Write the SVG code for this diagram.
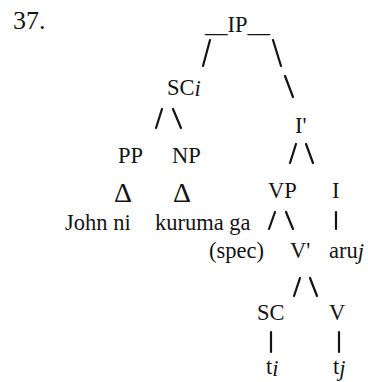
<svg xmlns="http://www.w3.org/2000/svg" width="368" height="382" viewBox="0 0 368 382" font-family="'Liberation Serif', 'DejaVu Serif', serif">
  <style>
    .lbl { font-family: 'Liberation Serif', 'DejaVu Serif', serif; font-size: 22.5px; fill: #141414; }
    .num { font-size: 26px; }
    .tri { font-size: 28px; }
    .it { font-style: italic; }
    .edge { stroke: #141414; stroke-width: 2.2; stroke-linecap: round; fill: none; }
  </style>
  <rect width="368" height="382" fill="#ffffff"/>

  <text class="lbl num" x="13" y="29">37.</text>

  <!-- branches of the tree -->
  <g id="connectors">
    <line class="edge" x1="210" y1="40" x2="203" y2="66"/>
    <line class="edge" x1="273" y1="40" x2="281" y2="66"/>
    <line class="edge" x1="285" y1="76" x2="293" y2="97"/>
    <line class="edge" x1="162" y1="109" x2="156" y2="128"/>
    <line class="edge" x1="173" y1="109" x2="181" y2="128"/>
    <line class="edge" x1="296" y1="144" x2="290" y2="163"/>
    <line class="edge" x1="306" y1="144" x2="313" y2="163"/>
    <line class="edge" x1="275" y1="212" x2="269" y2="229"/>
    <line class="edge" x1="286" y1="212" x2="293" y2="229"/>
    <line class="edge" x1="336" y1="212" x2="336" y2="229"/>
    <line class="edge" x1="300" y1="278" x2="294" y2="296"/>
    <line class="edge" x1="310" y1="278" x2="317" y2="296"/>
    <line class="edge" x1="271" y1="332" x2="271" y2="352"/>
    <line class="edge" x1="339" y1="332" x2="339" y2="352"/>
  </g>

  <g id="IP"><text class="lbl" x="205" y="32">__IP__</text></g>
  <g id="SCi"><text class="lbl" x="167" y="95">SC<tspan class="it" dy="1">i</tspan></text></g>
  <g id="Ibar"><text class="lbl" x="295" y="133">I'</text></g>
  <g id="PP"><text class="lbl" x="118" y="163">PP</text></g>
  <g id="NP"><text class="lbl" x="172" y="163">NP</text></g>
  <g id="PP-tri"><text class="lbl tri" x="114" y="202">Δ</text></g>
  <g id="NP-tri"><text class="lbl tri" x="173" y="202">Δ</text></g>
  <g id="VP"><text class="lbl" x="268" y="198">VP</text></g>
  <g id="I"><text class="lbl" x="332" y="198">I</text></g>
  <g id="John-ni"><text class="lbl" x="65" y="230">John ni</text></g>
  <g id="kuruma-ga"><text class="lbl" x="155" y="230">kuruma ga</text></g>
  <g id="spec"><text class="lbl" x="209" y="258">(spec)</text></g>
  <g id="Vbar"><text class="lbl" x="290" y="258">V'</text></g>
  <g id="aru"><text class="lbl" x="329" y="258">aru<tspan class="it" dy="1">j</tspan></text></g>
  <g id="SC"><text class="lbl" x="257" y="320">SC</text></g>
  <g id="V"><text class="lbl" x="329" y="320">V</text></g>
  <g id="ti"><text class="lbl" x="266" y="374">t<tspan class="it" dy="2">i</tspan></text></g>
  <g id="tj"><text class="lbl" x="333" y="374">t<tspan class="it" dy="2">j</tspan></text></g>
</svg>
